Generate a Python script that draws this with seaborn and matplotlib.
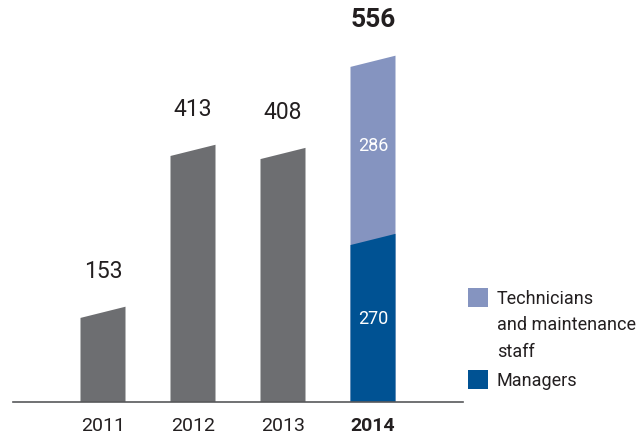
import matplotlib
matplotlib.use("Agg")
import matplotlib.pyplot as plt
from matplotlib.patches import Polygon, Rectangle
import seaborn as sns
import pandas as pd

years = ["2011", "2012", "2013", "2014"]
totals = [153, 413, 408, 556]
managers_2014 = 270
technicians_2014 = 286
legend_labels = ["Technicians\nand maintenance\nstaff", "Managers"]

GRAY = "#6d6e71"
LIGHT = "#8594c0"
DARK = "#005293"
TXT = "#231f20"

sns.set_theme(style="white")
plt.rcParams["font.family"] = ["Roboto", "DejaVu Sans"]

fig = plt.figure(figsize=(6.44, 4.35), dpi=100)
ax = fig.add_axes([13 / 644, 32 / 435, 450 / 644, 403 / 435])

df_tot = pd.DataFrame({"year": years, "value": totals})
sns.barplot(data=df_tot, x="year", y="value", hue="year", order=years,
            palette=[GRAY, GRAY, GRAY, LIGHT], width=0.5, legend=False,
            ax=ax, saturation=1)
df_man = pd.DataFrame({"year": [years[-1]], "value": [managers_2014]})
sns.barplot(data=df_man, x="year", y="value", order=years, color=DARK,
            width=0.5, ax=ax, saturation=1)

# slanted tops
slant = 18
for p in list(ax.patches):
    x, y = p.get_x(), p.get_y()
    w, h = p.get_width(), p.get_height()
    if h <= 0:
        p.remove()
        continue
    poly = Polygon([(x, y), (x + w, y), (x + w, y + h), (x, y + h - slant)],
                   closed=True, facecolor=p.get_facecolor(), edgecolor="none",
                   zorder=p.get_zorder())
    p.remove()
    ax.add_patch(poly)

ax.set_xlim(-1, 4)
ax.set_ylim(0, 647)

for i, v in enumerate(totals):
    bold = (i == len(totals) - 1)
    ax.annotate(str(v), (i, v), xytext=(0, 18), textcoords="offset points",
                ha="center", va="bottom", color=TXT,
                fontsize=19 if bold else 16.5,
                fontweight="bold" if bold else "normal")

ax.text(3, managers_2014 + technicians_2014 / 2, str(technicians_2014),
        ha="center", va="center", color="white", fontsize=13)
ax.text(3, managers_2014 / 2, str(managers_2014),
        ha="center", va="center", color="white", fontsize=13)

for s in ["top", "left", "right"]:
    ax.spines[s].set_visible(False)
ax.spines["bottom"].set_color("#58595b")
ax.spines["bottom"].set_linewidth(1.2)
ax.set_yticks([])
ax.set_xlabel("")
ax.set_ylabel("")
ax.tick_params(axis="x", length=0, pad=10, labelsize=14, labelcolor=TXT)
for lbl in ax.get_xticklabels():
    if lbl.get_text() == years[-1]:
        lbl.set_fontweight("bold")

# legend drawn manually
H = 435
def fy(py):
    return 1 - py / H
fig.patches.append(Rectangle((468 / 644, fy(308)), 20 / 644, 19 / H,
                             transform=fig.transFigure, facecolor=LIGHT,
                             edgecolor="none"))
fig.patches.append(Rectangle((468 / 644, fy(390)), 20 / 644, 19 / H,
                             transform=fig.transFigure, facecolor=DARK,
                             edgecolor="none"))
fig.text(497 / 644, fy(290), legend_labels[0], ha="left", va="top",
         fontsize=13, color=TXT, linespacing=1.6)
fig.text(497 / 644, fy(372), legend_labels[1], ha="left", va="top",
         fontsize=13, color=TXT)

fig.savefig("out.png", dpi=100)
